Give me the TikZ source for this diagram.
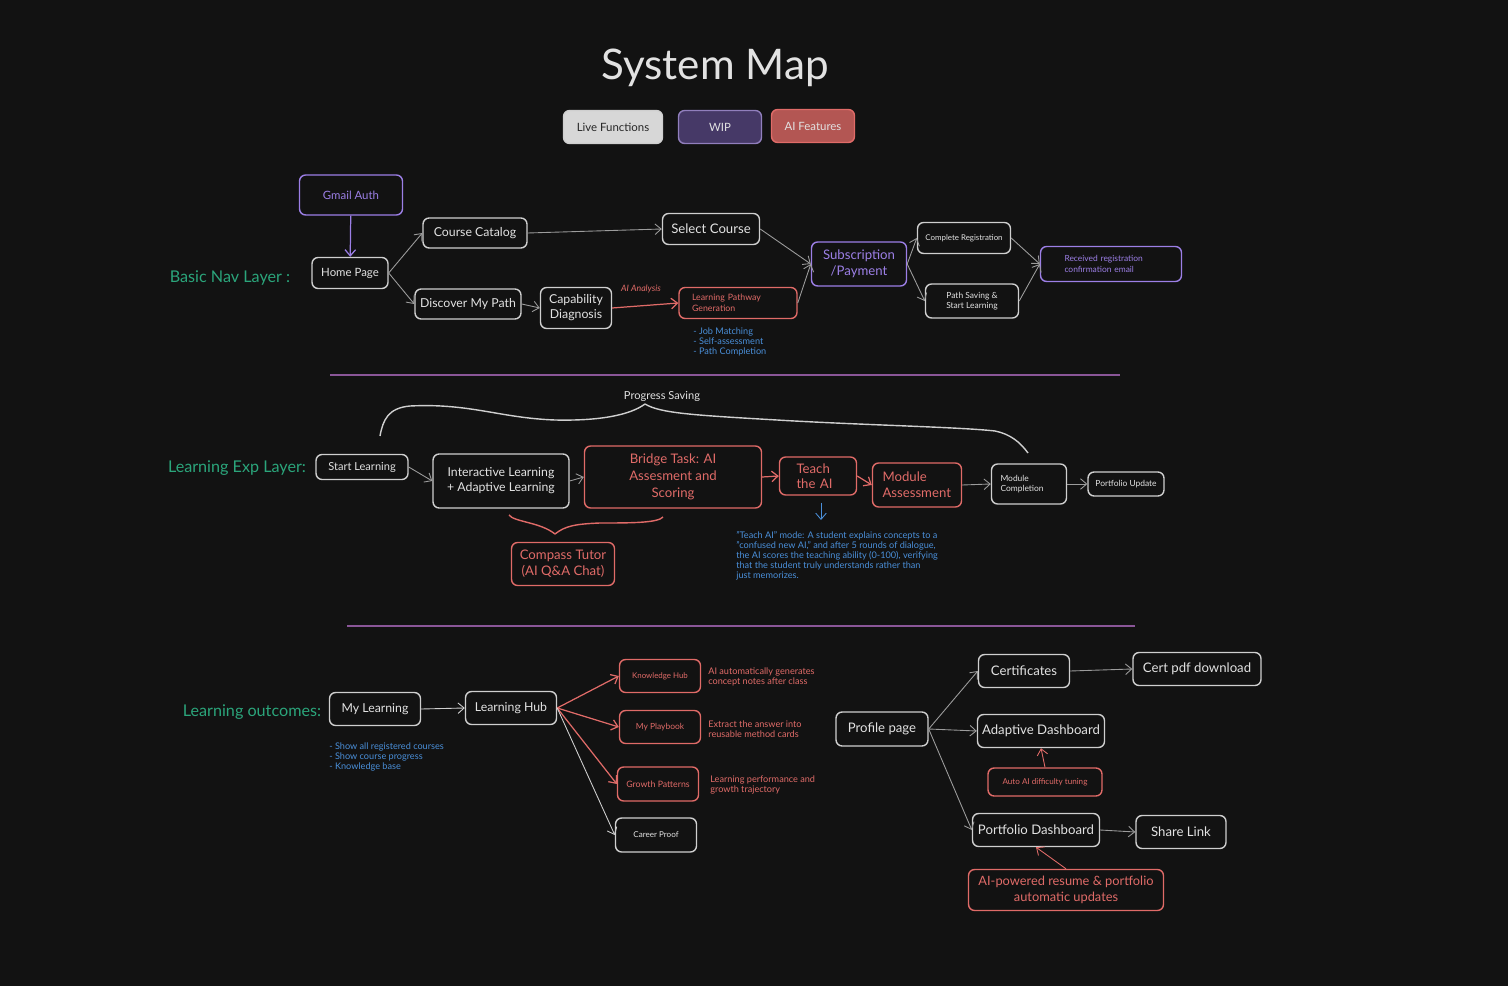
\documentclass[tikz,border=0pt]{standalone}
\usepackage{fontspec}
\setmainfont{Lato}
\usetikzlibrary{arrows.meta}

\definecolor{bg}{HTML}{121212}
\definecolor{ink}{HTML}{E2E2E2}
\definecolor{boxline}{HTML}{CFCFCF}
\definecolor{wire}{HTML}{9C9C9C}
\definecolor{wip}{HTML}{9C7FE6}
\definecolor{ai}{HTML}{E06B68}
\definecolor{layer}{HTML}{2BA57B}
\definecolor{note}{HTML}{4A8FD9}
\definecolor{rule}{HTML}{8A5698}

\tikzset{
  box/.style={draw=boxline,line width=0.8pt,rounded corners=3.5pt,text=ink,
    inner sep=1pt,align=center,font=\fontsize{7}{8.5}\selectfont},
  wipbox/.style={box,draw=wip,text=wip},
  aibox/.style={box,draw=ai,text=ai},
  sz/.style 2 args={minimum width=#1*0.02cm,minimum height=#2*0.02cm},
  fs/.style 2 args={font=\fontsize{#1}{#2}\selectfont},
  smalltxt/.style={fs={4.8}{5.8}},
  link/.style={draw=wire,line width=0.5pt,-{Straight Barb[length=3.5pt,width=6pt]}},
  ailink/.style={link,draw=ai,line width=0.7pt},
  layerlbl/.style={text=layer,fs={9.2}{10.5}},
  notetxt/.style={text=note,align=left,anchor=north west,inner sep=0pt,fs={5.2}{5.7}},
  ainote/.style={notetxt,text=ai},
}

\begin{document}
\begin{tikzpicture}[x=0.02cm,y=-0.02cm]
  \fill[bg] (0,0) rectangle (1508,986);
  \useasboundingbox (0,0) rectangle (1508,986);

  % title and legend
  \node[text=ink,fs={24}{26}] (title) at (715,68) {System Map};
  \node[box,sz={99}{33},fill=ink!95!black,text=black!85,fs={6.5}{8}] (live) at (613,127) {Live Functions};
  \node[box,sz={83}{33},fill=wip!45!black,draw=wip!60!gray,text=ink,fs={6.5}{8}] (wipkey) at (720,127) {WIP};
  \node[box,sz={83}{33},fill=ai!80!black,draw=ai,text=ink,fs={6.5}{8}] (aikey) at (813,126) {AI Features};

  % basic nav layer
  \node[layerlbl] (navlbl) at (230,278) {Basic Nav Layer :};
  \node[wipbox,sz={103}{40},fs={6.5}{8}] (gmail) at (351,195) {Gmail Auth};
  \node[box,sz={76}{31},fs={6.5}{8}] (home) at (350,273) {Home Page};
  \node[box,sz={104}{30}] (catalog) at (475,233) {Course Catalog};
  \node[box,sz={106}{30}] (discover) at (468,304) {Discover My Path};
  \node[box,sz={71}{41}] (capab) at (576,308) {Capability\\Diagnosis};
  \node[aibox,sz={118}{31},fs={5}{6},align=left,inner xsep=0.26cm,text width=1.84cm] (lpg) at (738,303) {Learning Pathway\\Generation};
  \node[text=ai,font=\fontsize{5}{6}\selectfont\itshape] (ailbl) at (641,289) {AI Analysis};
  \node[notetxt] (lpgnote) at (693,327) {- Job Matching\\- Self-assessment\\- Path Completion};
  \node[box,sz={97}{31},fs={7.5}{9}] (select) at (711,229) {Select Course};
  \node[wipbox,sz={95}{44},fs={7.5}{9}] (subpay) at (859,264) {Subscription\\/Payment};
  \node[box,sz={93}{31},fs={4.5}{5.5}] (compreg) at (964,238) {Complete Registration};
  \node[box,sz={93}{34},smalltxt] (pathsave) at (972,301) {Path Saving \&\\Start Learning};
  \node[wipbox,sz={141}{35},smalltxt,align=left,inner xsep=0.48cm,text width=1.86cm] (received) at (1111,264) {Received registration\\confirmation email};

  \draw[link,draw=wip,line width=0.7pt] (gmail) -- (home);
  \draw[link] (home.east) -- (catalog.west);
  \draw[link] (home.east) -- (discover.west);
  \draw[link] (catalog.east) -- (select.west);
  \draw[link] (discover.east) -- (capab.west);
  \draw[ailink] (capab.east) -- (lpg.west);
  \draw[link] (select.east) -- (subpay.west);
  \draw[link] (lpg.east) -- (subpay.west);
  \draw[link] (subpay.east) -- (compreg.west);
  \draw[link] (subpay.east) -- (pathsave.west);
  \draw[link] (compreg.east) -- (received.west);
  \draw[link] (pathsave.east) -- (received.west);

  \draw[rule,line width=0.9pt] (330,375) -- (1120,375);

  % learning exp layer
  \node[layerlbl] (explbl) at (237,468) {Learning Exp Layer:};
  \node[box,sz={92}{25},fs={6.3}{7.5}] (startl) at (362,467) {Start Learning};
  \node[box,sz={136}{54}] (interact) at (501,481) {Interactive Learning\\+ Adaptive Learning};
  \node[aibox,sz={177}{62},fs={7.5}{9.5}] (bridge) at (673,477) {Bridge Task: AI\\Assesment and\\Scoring};
  \node[aibox,sz={77}{38},fs={7.5}{8.5},align=left,inner xsep=0.34cm,text width=0.86cm] (teach) at (818,476) {Teach\\the AI};
  \node[aibox,sz={89}{44},fs={7.5}{9},align=left,inner xsep=0.2cm,text width=1.38cm] (modassess) at (917,485) {Module\\Assessment};
  \node[box,sz={75}{40},smalltxt,align=left,inner xsep=0.18cm,text width=1.14cm] (modcomp) at (1029,484) {Module\\Completion};
  \node[box,sz={76}{24},fs={4.8}{5.6}] (portupd) at (1126,484) {Portfolio Update};
  \node[text=ink,fs={6.3}{7.5}] (psave) at (662,396) {Progress Saving};
  \node[aibox,sz={103}{43},fs={7.5}{9}] (compass) at (563,564) {Compass Tutor\\(AI Q\&A Chat)};
  \coordinate (tnote) at (821,520);
  \node[notetxt] (teachtxt) at (736,531) {"Teach AI" mode: A student explains concepts to a\\"confused new AI," and after 5 rounds of dialogue,\\the AI scores the teaching ability (0-100), verifying\\that the student truly understands rather than\\just memorizes.};

  \draw[boxline,line width=0.8pt] (380,436) .. controls (383,420) and (388,408) .. (410,406)
    .. controls (470,403) and (500,418) .. (555,420) .. controls (600,421) and (630,415) .. (645,404);
  \draw[boxline,line width=0.8pt] (645,404) .. controls (660,413) and (690,415) .. (777,420)
    .. controls (860,425) and (960,427) .. (995,431) .. controls (1010,434) and (1020,442) .. (1028,453);
  \draw[ai,line width=0.8pt] (509,515) .. controls (514,522) and (540,522) .. (555,534);
  \draw[ai,line width=0.8pt] (555,534) .. controls (565,526) and (575,524) .. (600,523)
    .. controls (630,523) and (658,523) .. (663,517);

  \draw[link] (startl.east) -- (interact.west);
  \draw[link] (interact.east) -- (bridge.west);
  \draw[ailink] (bridge.east) -- (teach.west);
  \draw[ailink] (teach.east) -- (modassess.west);
  \draw[link] (modassess.east) -- (modcomp.west);
  \draw[link] (modcomp.east) -- (portupd.west);
  \draw[link,draw=note,shorten <=4pt] (teach.south -| tnote) -- (tnote);

  \draw[rule,line width=0.9pt] (347,626) -- (1135,626);

  % learning outcomes
  \node[layerlbl] (outlbl) at (252,712) {Learning outcomes:};
  \node[box,sz={91}{33}] (mylearn) at (375,709) {My Learning};
  \node[box,sz={91}{33}] (hub) at (511,708) {Learning Hub};
  \node[notetxt] (mynote) at (329,742) {- Show all registered courses\\- Show course progress\\- Knowledge base};
  \node[aibox,sz={81}{33},fs={4.5}{5.5}] (khub) at (660,676) {Knowledge Hub};
  \node[aibox,sz={81}{33},fs={4.8}{5.8}] (playbook) at (660,727) {My Playbook};
  \node[aibox,sz={81}{34},fs={5}{6}] (growth) at (658,784) {Growth Patterns};
  \node[box,sz={81}{34},fs={4.6}{5.6}] (career) at (656,835) {Career Proof};
  \node[ainote] (khnote) at (708,667) {AI automatically generates\\concept notes after class};
  \node[ainote] (pbnote) at (708,720) {Extract the answer into\\reusable method cards};
  \node[ainote] (gpnote) at (710,775) {Learning performance and\\growth trajectory};

  \draw[link,draw=boxline] (mylearn.east) -- (hub.west);
  \draw[ailink] (hub.east) -- (khub.west);
  \draw[ailink] (hub.east) -- (playbook.west);
  \draw[ailink] (hub.east) -- (growth.west);
  \draw[link,draw=boxline] (hub.east) -- (career.west);

  \node[box,sz={92}{34},fs={7.5}{9}] (profile) at (882,729) {Profile page};
  \node[box,sz={91}{33},fs={7.5}{9}] (certs) at (1024,671) {Certificates};
  \node[box,sz={128}{33},fs={7.5}{9}] (certpdf) at (1197,669) {Cert pdf download};
  \node[box,sz={127}{33},fs={7.5}{9}] (adapt) at (1041,731) {Adaptive Dashboard};
  \node[aibox,sz={114}{28},fs={4.6}{5.6}] (tuning) at (1045,782) {Auto AI difficulty tuning};
  \node[box,sz={127}{33},fs={7.5}{9}] (portdash) at (1036,830) {Portfolio Dashboard};
  \node[box,sz={90}{33},fs={7.5}{9}] (share) at (1181,832) {Share Link};
  \node[aibox,sz={195}{41},fs={7.3}{9}] (resume) at (1066,890) {AI-powered resume \& portfolio\\automatic updates};

  \draw[link] (profile.east) -- (certs.west);
  \draw[link] (profile.east) -- (adapt.west);
  \draw[link] (profile.east) -- (portdash.west);
  \draw[link] (certs.east) -- (certpdf.west);
  \draw[link] (portdash.east) -- (share.west);
  \draw[ailink,line width=0.5pt] (tuning.north) -- (adapt.south);
  \draw[ailink,line width=0.5pt] (resume.north) -- (portdash.south);
\end{tikzpicture}
\end{document}
